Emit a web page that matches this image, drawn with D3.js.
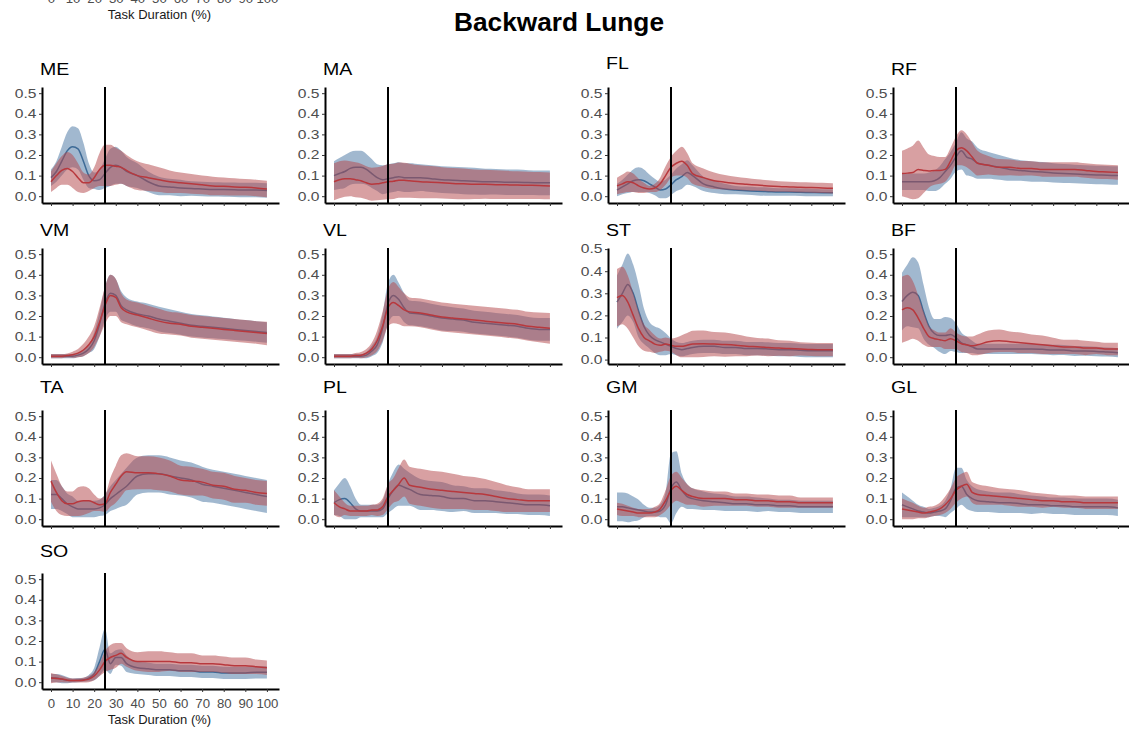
<!DOCTYPE html>
<html>
<head>
<meta charset="utf-8">
<script src="https://cdn.jsdelivr.net/npm/d3@7"></script>
<style>
body { margin: 0; background: #fff; }
svg { display: block; }
text { font-family: "Liberation Sans", Arial, sans-serif; }
</style>
</head>
<body>
<svg id="chart"></svg>
<script>
// task duration (%) sample points
const pct = [0,2.5,5,7.5,10,12.5,15,17.5,20,22.5,25,27.5,30,32.5,35,40,45,50,55,60,65,70,75,80,85,90,95,100];
const muscles = ['ME','MA','FL','RF','VM','VL','ST','BF','TA','PL','GM','GL','SO'];
const xTicks = [0,10,20,30,40,50,60,70,80,90,100];
const yTicks = [0,0.1,0.2,0.3,0.4,0.5];
const eventPct = 25;

// _b / _bs = blue group mean / sd, _r / _rs = red group mean / sd
const ME_b  = [0.09,0.12,0.17,0.22,0.24,0.23,0.17,0.10,0.075,0.08,0.11,0.14,0.15,0.14,0.12,0.10,0.07,0.05,0.045,0.04,0.037,0.035,0.033,0.032,0.031,0.03,0.03,0.028];
const ME_bs = [0.04,0.05,0.07,0.09,0.10,0.10,0.09,0.06,0.04,0.05,0.07,0.09,0.09,0.08,0.07,0.06,0.05,0.045,0.04,0.04,0.035,0.035,0.035,0.035,0.035,0.035,0.035,0.035];
const ME_r  = [0.07,0.10,0.125,0.135,0.12,0.09,0.065,0.065,0.09,0.13,0.15,0.15,0.145,0.14,0.125,0.10,0.09,0.08,0.07,0.065,0.06,0.055,0.05,0.048,0.045,0.043,0.04,0.035];
const ME_rs = [0.05,0.06,0.07,0.08,0.08,0.07,0.05,0.04,0.05,0.08,0.10,0.10,0.09,0.08,0.075,0.07,0.065,0.06,0.055,0.05,0.048,0.045,0.045,0.043,0.042,0.04,0.04,0.04];

const MA_b  = [0.10,0.11,0.12,0.135,0.14,0.14,0.13,0.11,0.09,0.08,0.085,0.09,0.095,0.09,0.09,0.09,0.085,0.08,0.078,0.075,0.073,0.07,0.07,0.068,0.068,0.066,0.065,0.065];
const MA_bs = [0.07,0.075,0.08,0.08,0.08,0.08,0.075,0.07,0.065,0.07,0.07,0.07,0.07,0.07,0.07,0.065,0.065,0.065,0.065,0.065,0.065,0.063,0.062,0.062,0.062,0.06,0.06,0.06];
const MA_r  = [0.07,0.08,0.085,0.085,0.08,0.075,0.065,0.058,0.06,0.065,0.07,0.072,0.078,0.077,0.075,0.07,0.068,0.065,0.062,0.06,0.058,0.058,0.056,0.055,0.054,0.053,0.052,0.05];
const MA_rs = [0.09,0.09,0.088,0.085,0.085,0.083,0.08,0.08,0.08,0.082,0.085,0.085,0.085,0.085,0.083,0.08,0.078,0.076,0.075,0.075,0.072,0.07,0.07,0.068,0.067,0.066,0.065,0.065];

const FL_b  = [0.03,0.045,0.06,0.075,0.08,0.075,0.06,0.045,0.03,0.035,0.055,0.08,0.095,0.115,0.10,0.06,0.045,0.035,0.03,0.027,0.024,0.022,0.02,0.02,0.019,0.018,0.017,0.017];
const FL_bs = [0.03,0.035,0.045,0.055,0.06,0.055,0.045,0.04,0.04,0.045,0.05,0.055,0.06,0.06,0.05,0.035,0.03,0.025,0.02,0.02,0.02,0.02,0.018,0.018,0.018,0.018,0.017,0.017];
const FL_r  = [0.05,0.06,0.07,0.065,0.05,0.04,0.035,0.04,0.06,0.10,0.14,0.16,0.17,0.15,0.11,0.09,0.075,0.068,0.062,0.058,0.054,0.05,0.047,0.045,0.043,0.042,0.04,0.038];
const FL_rs = [0.04,0.045,0.05,0.045,0.035,0.025,0.015,0.02,0.03,0.045,0.05,0.06,0.07,0.06,0.05,0.045,0.04,0.035,0.032,0.03,0.028,0.027,0.026,0.025,0.025,0.025,0.025,0.025];

const RF_b  = [0.07,0.07,0.07,0.07,0.07,0.07,0.075,0.09,0.12,0.15,0.19,0.22,0.19,0.18,0.16,0.15,0.14,0.13,0.125,0.12,0.118,0.113,0.11,0.108,0.105,0.103,0.102,0.10];
const RF_bs = [0.04,0.04,0.04,0.04,0.04,0.045,0.05,0.055,0.06,0.065,0.07,0.09,0.09,0.085,0.075,0.065,0.06,0.055,0.05,0.05,0.048,0.047,0.046,0.045,0.045,0.045,0.045,0.045];
const RF_r  = [0.11,0.112,0.115,0.13,0.125,0.122,0.125,0.125,0.13,0.17,0.22,0.235,0.22,0.19,0.16,0.15,0.14,0.14,0.135,0.135,0.13,0.13,0.13,0.13,0.125,0.12,0.118,0.115];
const RF_rs = [0.11,0.12,0.13,0.14,0.11,0.08,0.07,0.065,0.06,0.065,0.07,0.085,0.08,0.07,0.06,0.045,0.04,0.038,0.036,0.035,0.035,0.035,0.035,0.035,0.035,0.035,0.035,0.035];

const VM_b  = [0.005,0.005,0.005,0.005,0.005,0.01,0.02,0.04,0.08,0.16,0.26,0.31,0.30,0.25,0.23,0.21,0.20,0.185,0.175,0.165,0.155,0.15,0.145,0.14,0.135,0.13,0.125,0.12];
const VM_bs = [0.01,0.01,0.01,0.01,0.01,0.01,0.015,0.02,0.04,0.06,0.08,0.09,0.08,0.07,0.06,0.06,0.06,0.06,0.058,0.056,0.055,0.054,0.053,0.052,0.051,0.05,0.05,0.05];
const VM_r  = [0.005,0.005,0.005,0.008,0.012,0.02,0.035,0.06,0.10,0.17,0.25,0.30,0.29,0.24,0.22,0.205,0.19,0.175,0.165,0.16,0.15,0.145,0.14,0.135,0.13,0.125,0.12,0.115];
const VM_rs = [0.01,0.01,0.01,0.01,0.015,0.02,0.03,0.04,0.05,0.07,0.09,0.10,0.09,0.07,0.06,0.06,0.06,0.06,0.055,0.055,0.055,0.055,0.055,0.055,0.055,0.055,0.055,0.057];

const VL_b  = [0.005,0.005,0.005,0.005,0.005,0.005,0.01,0.03,0.06,0.14,0.26,0.30,0.28,0.24,0.215,0.21,0.20,0.19,0.185,0.18,0.17,0.165,0.16,0.155,0.15,0.14,0.135,0.135];
const VL_bs = [0.01,0.01,0.01,0.01,0.01,0.01,0.015,0.025,0.04,0.07,0.10,0.10,0.08,0.07,0.06,0.06,0.06,0.06,0.058,0.056,0.055,0.055,0.055,0.055,0.055,0.055,0.055,0.055];
const VL_r  = [0.005,0.005,0.005,0.005,0.008,0.01,0.02,0.04,0.08,0.15,0.24,0.265,0.25,0.23,0.22,0.215,0.205,0.195,0.19,0.185,0.18,0.175,0.17,0.165,0.16,0.15,0.145,0.14];
const VL_rs = [0.01,0.01,0.01,0.01,0.012,0.015,0.02,0.03,0.05,0.07,0.09,0.10,0.09,0.08,0.07,0.07,0.07,0.07,0.07,0.07,0.07,0.07,0.07,0.07,0.07,0.07,0.072,0.075];

const ST_b  = [0.26,0.30,0.34,0.30,0.22,0.15,0.11,0.09,0.08,0.07,0.06,0.05,0.045,0.05,0.055,0.06,0.06,0.055,0.055,0.05,0.05,0.048,0.045,0.045,0.042,0.04,0.04,0.04];
const ST_bs = [0.12,0.13,0.14,0.13,0.12,0.08,0.06,0.06,0.06,0.05,0.035,0.03,0.03,0.03,0.03,0.03,0.03,0.03,0.03,0.03,0.03,0.03,0.03,0.03,0.03,0.03,0.03,0.03];
const ST_r  = [0.28,0.29,0.26,0.20,0.14,0.10,0.085,0.07,0.065,0.07,0.065,0.06,0.06,0.065,0.07,0.072,0.07,0.068,0.065,0.06,0.058,0.055,0.052,0.05,0.048,0.046,0.045,0.045];
const ST_rs = [0.13,0.13,0.12,0.10,0.08,0.06,0.05,0.04,0.03,0.03,0.03,0.04,0.05,0.055,0.06,0.06,0.055,0.055,0.05,0.045,0.04,0.04,0.035,0.035,0.03,0.03,0.03,0.03];

const BF_b  = [0.27,0.30,0.315,0.30,0.22,0.15,0.115,0.105,0.105,0.11,0.095,0.07,0.06,0.05,0.04,0.04,0.04,0.04,0.04,0.04,0.038,0.035,0.035,0.03,0.03,0.028,0.025,0.022];
const BF_bs = [0.14,0.15,0.17,0.16,0.13,0.09,0.07,0.08,0.09,0.08,0.07,0.05,0.04,0.03,0.025,0.025,0.025,0.025,0.025,0.025,0.025,0.025,0.024,0.024,0.023,0.023,0.022,0.022];
const BF_r  = [0.23,0.24,0.23,0.19,0.14,0.10,0.09,0.085,0.08,0.09,0.08,0.065,0.06,0.055,0.06,0.075,0.08,0.075,0.07,0.065,0.06,0.055,0.05,0.05,0.045,0.045,0.04,0.04];
const BF_rs = [0.16,0.16,0.14,0.11,0.08,0.05,0.04,0.035,0.04,0.05,0.04,0.04,0.04,0.045,0.05,0.055,0.055,0.05,0.05,0.045,0.045,0.04,0.035,0.035,0.035,0.03,0.03,0.03];

const TA_b  = [0.12,0.12,0.10,0.075,0.06,0.05,0.05,0.05,0.05,0.055,0.07,0.10,0.12,0.14,0.16,0.21,0.22,0.22,0.21,0.20,0.19,0.17,0.16,0.15,0.14,0.13,0.12,0.11];
const TA_bs = [0.07,0.07,0.06,0.05,0.05,0.04,0.04,0.04,0.04,0.04,0.05,0.06,0.07,0.08,0.09,0.09,0.09,0.09,0.09,0.085,0.085,0.085,0.08,0.08,0.08,0.08,0.08,0.08];
const TA_r  = [0.185,0.13,0.09,0.075,0.075,0.085,0.09,0.09,0.08,0.07,0.075,0.13,0.17,0.21,0.23,0.225,0.225,0.22,0.21,0.19,0.185,0.18,0.165,0.16,0.145,0.14,0.13,0.125];
const TA_rs = [0.10,0.09,0.07,0.06,0.06,0.07,0.07,0.06,0.04,0.03,0.04,0.07,0.09,0.10,0.09,0.08,0.08,0.08,0.075,0.07,0.07,0.065,0.065,0.065,0.065,0.06,0.06,0.06];

const PL_b  = [0.08,0.095,0.10,0.08,0.05,0.04,0.04,0.04,0.04,0.05,0.10,0.14,0.165,0.155,0.145,0.12,0.115,0.11,0.10,0.10,0.09,0.09,0.085,0.08,0.075,0.07,0.07,0.065];
const PL_bs = [0.06,0.08,0.10,0.08,0.05,0.03,0.03,0.03,0.03,0.04,0.07,0.09,0.10,0.09,0.08,0.075,0.07,0.07,0.065,0.06,0.06,0.06,0.055,0.055,0.05,0.05,0.05,0.05];
const PL_r  = [0.08,0.06,0.05,0.04,0.04,0.04,0.04,0.045,0.045,0.06,0.11,0.14,0.17,0.20,0.165,0.155,0.145,0.14,0.135,0.13,0.125,0.12,0.11,0.10,0.095,0.09,0.09,0.09];
const PL_rs = [0.06,0.05,0.03,0.025,0.025,0.025,0.025,0.025,0.03,0.04,0.06,0.06,0.08,0.09,0.09,0.09,0.09,0.09,0.085,0.08,0.08,0.075,0.07,0.065,0.06,0.055,0.055,0.055];

const GM_b  = [0.06,0.06,0.055,0.05,0.045,0.04,0.035,0.035,0.04,0.07,0.15,0.18,0.14,0.11,0.10,0.09,0.085,0.08,0.075,0.075,0.07,0.07,0.065,0.065,0.06,0.06,0.06,0.06];
const GM_bs = [0.07,0.07,0.07,0.06,0.05,0.03,0.02,0.02,0.03,0.06,0.17,0.15,0.08,0.06,0.05,0.045,0.04,0.04,0.035,0.035,0.035,0.03,0.03,0.03,0.03,0.03,0.03,0.03];
const GM_r  = [0.05,0.045,0.04,0.035,0.03,0.03,0.03,0.035,0.05,0.09,0.14,0.16,0.14,0.12,0.11,0.10,0.10,0.10,0.095,0.095,0.09,0.09,0.085,0.085,0.08,0.08,0.08,0.08];
const GM_rs = [0.03,0.03,0.025,0.02,0.02,0.02,0.02,0.025,0.03,0.05,0.07,0.07,0.06,0.05,0.04,0.04,0.035,0.035,0.03,0.03,0.03,0.03,0.03,0.03,0.025,0.025,0.025,0.025];

const GL_b  = [0.07,0.06,0.05,0.04,0.035,0.03,0.035,0.04,0.05,0.09,0.15,0.16,0.12,0.10,0.09,0.085,0.08,0.08,0.075,0.07,0.07,0.065,0.065,0.06,0.06,0.06,0.06,0.055];
const GL_bs = [0.06,0.05,0.04,0.03,0.025,0.02,0.02,0.025,0.04,0.06,0.10,0.09,0.07,0.06,0.055,0.05,0.05,0.05,0.045,0.045,0.04,0.04,0.04,0.04,0.04,0.04,0.04,0.04];
const GL_r  = [0.05,0.045,0.04,0.035,0.03,0.035,0.04,0.05,0.07,0.10,0.14,0.16,0.17,0.13,0.12,0.115,0.11,0.105,0.10,0.095,0.09,0.09,0.085,0.085,0.08,0.08,0.08,0.08];
const GL_rs = [0.05,0.045,0.04,0.03,0.025,0.025,0.025,0.03,0.04,0.05,0.06,0.06,0.06,0.05,0.05,0.045,0.04,0.04,0.04,0.035,0.035,0.03,0.03,0.03,0.03,0.03,0.03,0.03];

const SO_b  = [0.02,0.02,0.015,0.01,0.008,0.01,0.012,0.02,0.04,0.10,0.16,0.09,0.12,0.12,0.09,0.07,0.065,0.06,0.06,0.055,0.055,0.05,0.05,0.045,0.045,0.045,0.048,0.048];
const SO_bs = [0.02,0.02,0.02,0.015,0.01,0.01,0.01,0.015,0.03,0.07,0.10,0.05,0.035,0.04,0.04,0.03,0.03,0.03,0.03,0.03,0.03,0.03,0.03,0.03,0.03,0.03,0.03,0.03];
const SO_r  = [0.02,0.018,0.015,0.01,0.008,0.008,0.01,0.015,0.03,0.06,0.10,0.12,0.13,0.14,0.12,0.10,0.10,0.10,0.10,0.095,0.095,0.09,0.09,0.085,0.08,0.08,0.075,0.07];
const SO_rs = [0.025,0.02,0.015,0.012,0.01,0.01,0.012,0.015,0.02,0.03,0.05,0.06,0.06,0.05,0.045,0.045,0.05,0.05,0.045,0.045,0.045,0.04,0.04,0.04,0.04,0.04,0.035,0.035];

const series = {
  ME: [ME_b, ME_bs, ME_r, ME_rs], MA: [MA_b, MA_bs, MA_r, MA_rs],
  FL: [FL_b, FL_bs, FL_r, FL_rs], RF: [RF_b, RF_bs, RF_r, RF_rs],
  VM: [VM_b, VM_bs, VM_r, VM_rs], VL: [VL_b, VL_bs, VL_r, VL_rs],
  ST: [ST_b, ST_bs, ST_r, ST_rs], BF: [BF_b, BF_bs, BF_r, BF_rs],
  TA: [TA_b, TA_bs, TA_r, TA_rs], PL: [PL_b, PL_bs, PL_r, PL_rs],
  GM: [GM_b, GM_bs, GM_r, GM_rs], GL: [GL_b, GL_bs, GL_r, GL_rs],
  SO: [SO_b, SO_bs, SO_r, SO_rs]
};

// layout
const W = 1129, H = 729;
const colX = [42, 325, 608, 893];
const rowY = [87, 248, 410, 573];
const titleY = [75, 236, 393, 557];
const pw = 237, ph = 116;
const tickSx = 1.3;     // text in the source is drawn a bit wide
const xTickSx = 1.1;
const titleSx = 1.15;
const blue = { fill: '#4a77a3', line: '#3d6a96' };
const red = { fill: '#b5484d', line: '#b8383d' };

const svg = d3.select('#chart').attr('width', W).attr('height', H);

const x = d3.scaleLinear().domain([-4.17, 105.6]).range([0, pw]);

function wideText(sel, sx) {
  sel.attr('transform', `scale(${sx},1)`);
}

// x labels + title (bottom panel, and the cut-off copy at the very top)
function xLabels(g, yAxis) {
  const ax = g.append('g').attr('transform', `translate(0,${yAxis})`)
    .call(d3.axisBottom(x).tickValues(xTicks).tickSize(3).tickSizeOuter(0));
  ax.select('.domain').remove();
  ax.selectAll('line').remove();
  ax.selectAll('text').attr('y', 10.5).attr('fill', '#4d4d4d')
    .style('font-size', '12px').call(wideText, xTickSx);
  g.append('text')
    .attr('x', pw / 2 - 1).attr('y', yAxis + 35)
    .attr('text-anchor', 'middle')
    .style('font-size', '13px').attr('fill', '#1a1a1a')
    .text('Task Duration (%)');
}

svg.append('text')
  .attr('transform', 'translate(559,31) scale(1.05,1)')
  .attr('text-anchor', 'middle')
  .style('font-size', '25px').style('font-weight', 'bold')
  .text('Backward Lunge');

// remnant of the figure above, cut by the top edge as in the source
xLabels(svg.append('g').attr('transform', `translate(${colX[0]},0)`), -16);

muscles.forEach((m, i) => {
  const c = i % 4, r = Math.floor(i / 4);
  const [bm, bs, rm, rs] = series[m];
  const rows = pct.map((p, k) => ({ p, bm: bm[k], bs: bs[k], rm: rm[k], rs: rs[k] }));

  const y = d3.scaleLinear()
    .domain(m === 'ST' ? [-0.02, 0.505] : [-0.033, 0.53])
    .range([ph, 0]);

  const g = svg.append('g').attr('transform', `translate(${colX[c]},${rowY[r]})`);

  const band = (mk, sk) => d3.area().curve(d3.curveMonotoneX)
    .x(d => x(d.p)).y0(d => y(d[mk] - d[sk])).y1(d => y(d[mk] + d[sk]));
  const mean = mk => d3.line().curve(d3.curveMonotoneX)
    .x(d => x(d.p)).y(d => y(d[mk]));

  g.append('path').datum(rows).attr('d', band('bm', 'bs'))
    .attr('fill', blue.fill).attr('fill-opacity', 0.52);
  g.append('path').datum(rows).attr('d', mean('bm'))
    .attr('fill', 'none').attr('stroke', blue.line).attr('stroke-width', 1.5);
  g.append('path').datum(rows).attr('d', band('rm', 'rs'))
    .attr('fill', red.fill).attr('fill-opacity', 0.52);
  g.append('path').datum(rows).attr('d', mean('rm'))
    .attr('fill', 'none').attr('stroke', red.line).attr('stroke-width', 1.5);

  g.append('line')
    .attr('x1', x(eventPct)).attr('x2', x(eventPct))
    .attr('y1', 0).attr('y2', ph)
    .attr('stroke', '#000').attr('stroke-width', 2);

  const ya = g.append('g')
    .call(d3.axisLeft(y).tickValues(yTicks).tickFormat(d3.format('.1f')).tickSize(3).tickSizeOuter(0));
  ya.select('.domain').attr('stroke', '#000').attr('stroke-width', 2);
  ya.selectAll('.tick line').attr('stroke', '#333');
  ya.selectAll('text').attr('x', -5.5 / tickSx).attr('fill', '#4d4d4d')
    .style('font-size', '12px').call(wideText, tickSx);

  const xa = g.append('g').attr('transform', `translate(0,${ph})`)
    .call(d3.axisBottom(x).tickValues(xTicks).tickSize(3).tickSizeOuter(0).tickFormat(''));
  xa.select('.domain').attr('stroke', '#000').attr('stroke-width', 2);
  xa.selectAll('.tick line').attr('stroke', '#333');

  if (m === 'SO') xLabels(g, ph);

  g.append('text')
    .attr('x', -2 / titleSx)
    .attr('y', titleY[r] - rowY[r] - (m === 'FL' ? 6 : 0))
    .style('font-size', '17px').attr('fill', '#000')
    .call(wideText, titleSx)
    .text(m);
});
</script>
</body>
</html>
